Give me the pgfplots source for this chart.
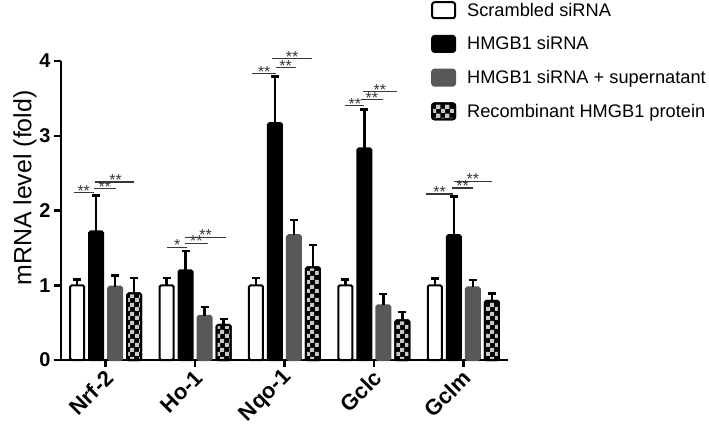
\documentclass[border=0pt]{standalone}
\usepackage{fontspec}
\setmainfont{Liberation Sans}
\usepackage{pgfplots}
\usepackage{pgfplotstable}
\pgfplotsset{compat=1.18}
\usetikzlibrary{patterns}
\pgfdeclarepatternformonly{bigcheck}{\pgfpointorigin}{\pgfqpoint{9bp}{9bp}}{\pgfqpoint{9bp}{9bp}}{%
 \pgfpathrectangle{\pgfpointorigin}{\pgfqpoint{4.5bp}{4.5bp}}%
 \pgfpathrectangle{\pgfqpoint{4.5bp}{4.5bp}}{\pgfqpoint{4.5bp}{4.5bp}}%
 \pgfusepath{fill}}
\definecolor{bargray}{RGB}{88,88,88}
\definecolor{chk}{RGB}{200,200,200}
\definecolor{siggray}{RGB}{55,55,55}

\pgfplotstableread{
x y e
0 1.00 0.08
1 1.00 0.10
2 1.00 0.10
3 1.00 0.08
4 1.00 0.09
}\scr
\pgfplotstableread{
x y e
0 1.72 0.48
1 1.20 0.26
2 3.17 0.62
3 2.83 0.52
4 1.67 0.52
}\hsi
\pgfplotstableread{
x y e
0 0.98 0.15
1 0.59 0.12
2 1.67 0.20
3 0.73 0.15
4 0.97 0.10
}\hsup
\pgfplotstableread{
x y e
0 0.89 0.21
1 0.47 0.08
2 1.24 0.30
3 0.53 0.11
4 0.79 0.10
}\rec

\pgfplotsset{
 legbox/.style={legend image code/.code={\draw[##1, line width=2bp, rounded corners=2.5bp] (0bp,-8bp) rectangle (23bp,8bp);}},
 sigline/.style={sharp plot, siggray, line width=1.2bp, forget plot, mark=none, error bars/y dir=none},
 eb/.style={error bars/.cd, y dir=plus, y explicit,
   error bar style={line width=2.5bp, black, solid},
   error mark=-, error mark options={rotate=90, line width=2.5bp, black, mark size=4bp}},
}
\tikzset{
 sigstar/.style={siggray, anchor=base, inner sep=0pt, yshift=-3.5bp, font=\fontsize{16}{16}\selectfont},
}

\begin{document}
\begin{tikzpicture}
\path[use as bounding box] (-61bp,-68bp) rectangle (648bp,360bp);
\begin{axis}[
 scale only axis, width=447bp, height=299bp,
 xmin=-0.5, xmax=4.5, ymin=0, ymax=4,
 clip=false,
 axis x line*=bottom, axis y line*=left,
 axis line style={line width=2.5bp, -},
 xtick={0,...,4}, xticklabels={Nrf-2,Ho-1,Nqo-1,Gclc,Gclm},
 ytick={0,...,4},
 tick align=outside, major tick length=7bp,
 tick style={line width=2.5bp, black},
 xticklabel style={xshift=6bp, yshift=-5bp, rotate=45, anchor=east, font=\bfseries\fontsize{22}{22}\selectfont},
 yticklabel style={font=\bfseries\fontsize{20}{20}\selectfont},
 /pgf/number format/assume math mode=true,
 ylabel={mRNA level (fold)},
 ylabel style={at={(axis description cs:-0.0805,0.575)}, anchor=center, font=\fontsize{25}{25}\selectfont},
 ybar=5bp, bar width=14bp,
 legend style={at={(axis description cs:0.828,1.201)}, anchor=north west, draw=none, fill=none,
   inner sep=0pt, outer sep=0pt, row sep=15bp, font=\fontsize{18.3}{20}\selectfont,
   /tikz/every odd column/.append style={column sep=9bp}},
 legend cell align=left,
]
\addplot[fill=white, draw=black, line width=2bp, rounded corners=1.5bp, legbox, eb]
  table[x=x, y=y, y error=e] {\scr};
\addlegendentry{Scrambled siRNA}
\addplot[fill=black, draw=black, line width=2bp, rounded corners=1.5bp, legbox, eb]
  table[x=x, y=y, y error=e] {\hsi};
\addlegendentry{HMGB1 siRNA}
\addplot[fill=bargray, draw=bargray, line width=2bp, rounded corners=1.5bp, legbox, eb]
  table[x=x, y=y, y error=e] {\hsup};
\addlegendentry{HMGB1 siRNA + supernatant}
\addplot[preaction={fill=black}, pattern=bigcheck, pattern color=chk, draw=black, line width=2bp, rounded corners=1.5bp, legbox, eb]
  table[x=x, y=y, y error=e] {\rec};
\addlegendentry{Recombinant HMGB1 protein}

% significance brackets
\addplot[sigline] coordinates {(-0.358,2.24) (-0.134,2.24)};
\addplot[sigline] coordinates {(-0.134,2.29) (0.112,2.29)};
\addplot[sigline] coordinates {(-0.123,2.38) (0.313,2.38)};
\addplot[sigline] coordinates {(0.687,1.51) (0.911,1.51)};
\addplot[sigline] coordinates {(0.888,1.56) (1.142,1.56)};
\addplot[sigline] coordinates {(0.888,1.64) (1.347,1.64)};
\addplot[sigline] coordinates {(1.642,3.83) (1.903,3.83)};
\addplot[sigline] coordinates {(1.900,3.91) (2.126,3.91)};
\addplot[sigline] coordinates {(1.862,4.03) (2.309,4.03)};
\addplot[sigline] coordinates {(2.679,3.40) (2.892,3.40)};
\addplot[sigline] coordinates {(2.855,3.48) (3.097,3.48)};
\addplot[sigline] coordinates {(2.880,3.59) (3.254,3.59)};
\addplot[sigline] coordinates {(3.586,2.22) (3.885,2.22)};
\addplot[sigline] coordinates {(3.874,2.30) (4.109,2.30)};
\addplot[sigline] coordinates {(3.892,2.39) (4.322,2.39)};

\node[sigstar] at (axis cs:-0.246,2.24) {**};
\node[sigstar] at (axis cs:-0.011,2.29) {**};
\node[sigstar] at (axis cs:0.110,2.38) {**};
\node[sigstar] at (axis cs:0.799,1.51) {*};
\node[sigstar] at (axis cs:1.015,1.56) {**};
\node[sigstar] at (axis cs:1.118,1.64) {**};
\node[sigstar] at (axis cs:1.773,3.83) {**};
\node[sigstar] at (axis cs:2.013,3.91) {**};
\node[sigstar] at (axis cs:2.086,4.03) {**};
\node[sigstar] at (axis cs:2.786,3.40) {**};
\node[sigstar] at (axis cs:2.976,3.48) {**};
\node[sigstar] at (axis cs:3.067,3.59) {**};
\node[sigstar] at (axis cs:3.736,2.22) {**};
\node[sigstar] at (axis cs:3.992,2.30) {**};
\node[sigstar] at (axis cs:4.107,2.39) {**};
\end{axis}
\end{tikzpicture}
\end{document}
